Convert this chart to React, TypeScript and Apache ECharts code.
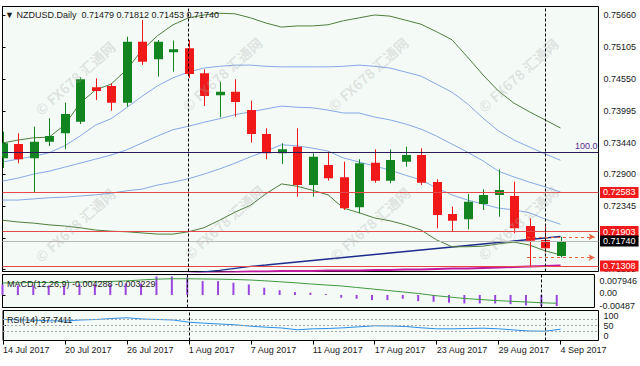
import React, { useEffect, useRef } from 'react';
import * as echarts from 'echarts';

const FONT = '"Liberation Sans", Arial, sans-serif';

const DATES = [
  '14 Jul 2017', '17 Jul 2017', '18 Jul 2017', '19 Jul 2017', '20 Jul 2017', '21 Jul 2017',
  '24 Jul 2017', '25 Jul 2017', '26 Jul 2017', '27 Jul 2017', '28 Jul 2017', '31 Jul 2017',
  '1 Aug 2017', '2 Aug 2017', '3 Aug 2017', '4 Aug 2017', '7 Aug 2017', '8 Aug 2017',
  '9 Aug 2017', '10 Aug 2017', '11 Aug 2017', '14 Aug 2017', '15 Aug 2017', '16 Aug 2017',
  '17 Aug 2017', '18 Aug 2017', '21 Aug 2017', '22 Aug 2017', '23 Aug 2017', '24 Aug 2017',
  '25 Aug 2017', '28 Aug 2017', '29 Aug 2017', '30 Aug 2017', '31 Aug 2017', '1 Sep 2017',
  '4 Sep 2017',
];

const OPEN = [
  0.73174, 0.73422, 0.73174, 0.73462, 0.73608, 0.73809, 0.74406, 0.74428, 0.74139, 0.75197,
  0.74892, 0.75013, 0.75082, 0.74649, 0.74267, 0.74330, 0.74012, 0.73596, 0.73261, 0.73376,
  0.72711, 0.73058, 0.72845, 0.72325, 0.73098, 0.72786, 0.73116, 0.73232, 0.72763, 0.72208,
  0.72116, 0.72382, 0.72538, 0.72521, 0.72000, 0.71757, 0.71479,
];
const HIGH = [
  0.73636, 0.73608, 0.73723, 0.73868, 0.74139, 0.74579, 0.74562, 0.74475, 0.75284, 0.75573,
  0.75226, 0.75218, 0.75226, 0.74718, 0.74503, 0.74545, 0.74174, 0.73695, 0.73435, 0.73695,
  0.73261, 0.73289, 0.73116, 0.73157, 0.73331, 0.73331, 0.73376, 0.73348, 0.72810, 0.72335,
  0.72555, 0.72637, 0.72984, 0.72769, 0.72134, 0.71988, 0.71812,
];
const LOW = [
  0.73006, 0.73088, 0.72573, 0.73388, 0.73331, 0.73769, 0.74186, 0.74000, 0.74069, 0.74793,
  0.74590, 0.74676, 0.74567, 0.74082, 0.73886, 0.73896, 0.73445, 0.73157, 0.73076, 0.72508,
  0.72508, 0.72786, 0.72278, 0.72221, 0.72751, 0.72741, 0.73029, 0.72711, 0.71960, 0.71901,
  0.71943, 0.72278, 0.72162, 0.71874, 0.71308, 0.71540, 0.71453,
];
const CLOSE = [
  0.73435, 0.73157, 0.73462, 0.73561, 0.73943, 0.74545, 0.74342, 0.74139, 0.75197, 0.74850,
  0.75197, 0.75065, 0.74637, 0.74255, 0.74330, 0.74151, 0.73596, 0.73261, 0.73331, 0.72711,
  0.73202, 0.72828, 0.72307, 0.73088, 0.72786, 0.73145, 0.73232, 0.72751, 0.72191, 0.72092,
  0.72422, 0.72538, 0.72625, 0.71960, 0.71745, 0.71613, 0.71740,
];

const BB_UPPER = [
  0.7344, 0.7349, 0.7353, 0.7354, 0.7375, 0.7413, 0.7436, 0.7446, 0.7471, 0.7505,
  0.7530, 0.7549, 0.7561, 0.7566, 0.7569, 0.7568, 0.7561, 0.7552, 0.7545, 0.7547,
  0.7547, 0.7549, 0.7556, 0.7561, 0.7566, 0.7564, 0.7557, 0.7550, 0.7537, 0.7523,
  0.7493, 0.7462, 0.7434, 0.7413, 0.7398, 0.7384, 0.7370,
];
const BB_LOWER = [
  0.7210, 0.7207, 0.7205, 0.7202, 0.7200, 0.7197, 0.7193, 0.7191, 0.7190, 0.7188,
  0.7186, 0.7186, 0.7190, 0.7197, 0.7210, 0.7224, 0.7236, 0.7256, 0.7273, 0.7269,
  0.7262, 0.7254, 0.7231, 0.7223, 0.7214, 0.7209, 0.7202, 0.7193, 0.7176, 0.7164,
  0.7164, 0.7165, 0.7169, 0.7172, 0.7167, 0.7157, 0.7150,
];
const BB_MID = [
  0.7278, 0.7283, 0.7290, 0.7295, 0.7302, 0.7309, 0.7316, 0.7323, 0.7332, 0.7344,
  0.7356, 0.7367, 0.7373, 0.7380, 0.7386, 0.7393, 0.7398, 0.7403, 0.7408, 0.7406,
  0.7405, 0.7401, 0.7396, 0.7396, 0.7389, 0.7384, 0.7377, 0.7368, 0.7356, 0.7342,
  0.7328, 0.7313, 0.7295, 0.7285, 0.7276, 0.7268, 0.7259,
];
const BAND1_UPPER = [
  0.7311, 0.7316, 0.7321, 0.7327, 0.7339, 0.7356, 0.7375, 0.7386, 0.7405, 0.7425,
  0.7443, 0.7457, 0.7467, 0.7474, 0.7477, 0.7479, 0.7479, 0.7477, 0.7476, 0.7476,
  0.7476, 0.7476, 0.7477, 0.7479, 0.7477, 0.7474, 0.7467, 0.7460, 0.7446, 0.7432,
  0.7412, 0.7387, 0.7365, 0.7349, 0.7337, 0.7325, 0.7314,
];
const BAND1_LOWER = [
  0.7245, 0.7245, 0.7247, 0.7249, 0.7250, 0.7252, 0.7254, 0.7257, 0.7261, 0.7264,
  0.7271, 0.7276, 0.7282, 0.7290, 0.7299, 0.7309, 0.7320, 0.7330, 0.7341, 0.7339,
  0.7335, 0.7330, 0.7318, 0.7311, 0.7304, 0.7297, 0.7288, 0.7280, 0.7266, 0.7254,
  0.7245, 0.7238, 0.7231, 0.7228, 0.7223, 0.7212, 0.7203,
];
const MA_NAVY = [
  0.70977, 0.70995, 0.71012, 0.71021, 0.71038, 0.71056, 0.71073, 0.71090, 0.71108, 0.71125,
  0.71142, 0.71160, 0.71177, 0.71203, 0.71229, 0.71264, 0.71299, 0.71324, 0.71350, 0.71376,
  0.71402, 0.71428, 0.71454, 0.71480, 0.71506, 0.71532, 0.71558, 0.71584, 0.71610, 0.71636,
  0.71662, 0.71688, 0.71714, 0.71740, 0.71766, 0.71792, 0.71818,
];
const MA_MAGENTA = [
  0.71120, 0.71124, 0.71128, 0.71131, 0.71135, 0.71139, 0.71142, 0.71146, 0.71150, 0.71155,
  0.71160, 0.71168, 0.71176, 0.71185, 0.71194, 0.71202, 0.71211, 0.71211, 0.71220, 0.71220,
  0.71220, 0.71228, 0.71228, 0.71228, 0.71237, 0.71237, 0.71246, 0.71246, 0.71255, 0.71263,
  0.71263, 0.71272, 0.71281, 0.71289, 0.71298, 0.71307, 0.71315,
];

const MACD_HIST = [
  0.00408, 0.00369, 0.00369, 0.00369, 0.00369, 0.00408, 0.00408, 0.00408, 0.00447, 0.00447,
  0.00718, 0.00718, 0.00680, 0.00536, 0.00536, 0.00474, 0.00408, 0.00280, 0.00186, 0.00109,
  0.00085, 0.00039, -0.00109, -0.00148, -0.00202, -0.00202, -0.00148, -0.00241, -0.00264, -0.00303,
  -0.00330, -0.00330, -0.00330, -0.00357, -0.00408, -0.00435, -0.004288,
];
const MACD_SIGNAL = [
  0.00466, 0.00474, 0.00485, 0.00485, 0.00485, 0.00497, 0.00513, 0.00524, 0.00544, 0.00583,
  0.00614, 0.00629, 0.00629, 0.00621, 0.00614, 0.00602, 0.00583, 0.00551, 0.00513, 0.00474,
  0.00427, 0.00388, 0.00350, 0.00291, 0.00233, 0.00175, 0.00117, 0.00058, -0.00019, -0.00078,
  -0.00136, -0.00175, -0.00214, -0.00245, -0.00272, -0.00303, -0.003229,
];
const RSI = [
  70.0, 69.0, 67.7, 65.7, 65.0, 68.3, 70.0, 73.3, 75.7, 71.7,
  70.0, 68.3, 61.0, 57.7, 55.0, 52.3, 47.7, 44.3, 41.7, 35.7,
  39.0, 40.0, 42.3, 45.7, 49.0, 48.3, 46.7, 42.3, 39.0, 39.0,
  40.0, 41.0, 39.0, 35.0, 31.7, 31.0, 37.7411,
];

const PRICE_TICKS = [0.7566, 0.75105, 0.7455, 0.73995, 0.7344, 0.729, 0.72345, 0.7179, 0.71255];
const PRICE_LABELS = [0.7566, 0.75105, 0.7455, 0.73995, 0.7344, 0.729, 0.72345, 0.71255];
const DATE_TICKS = [0, 4, 8, 12, 16, 20, 24, 28, 32, 36];
const MACD_TICKS = [0.007946, 0, -0.00487];
const MACD_EDGE_LABELS = [0.007946, -0.00487];
const MACD_EDGE_TEXT = ['0.007946', '-0.00487'];
const MACD_ZERO = 0;
const MACD_ZERO_TEXT = '0.00';
const RSI_TICKS = [100, 70, 50, 30, 0];
const RSI_LEVELS = [70, 50, 30];
const FIB_100 = 0.73284;
const RED_LEVELS = [0.72583, 0.71903, 0.71308];
const LAST_PRICE = 0.7174;
const MARKER_LINES = [0.71812, 0.71453];
const MARKER_RANGE = [33.84, 38.2];
const VERTICAL_MARKS = [12, 35];

const X_MIN = 0;
const X_MAX = 38.45;

const GREEN = '#128520';
const RED = '#F01818';

const WATERMARKS = [
  [75, 78], [222, 74], [368, 74], [518, 75],
  [75, 225], [224, 222], [370, 224], [518, 223],
];

export default function App() {
  const ref = useRef<HTMLDivElement>(null);

  useEffect(() => {
    document.body.style.margin = '0';
    if (!ref.current) return;
    const chart = echarts.init(ref.current, undefined, { renderer: 'svg' });

    const n = DATES.length;
    const candleData = DATES.map((_, i) => [i, OPEN[i], CLOSE[i], LOW[i], HIGH[i]]);
    const pairs = (arr: number[]) => arr.map((v, i) => [i, v]);

    const gridCommon = {
      left: 2.5,
      right: 41.5,
      show: true,
      backgroundColor: '#F4FBF7',
      borderColor: '#000',
      borderWidth: 1,
    };

    const hiddenX = (gridIndex: number) => ({
      gridIndex,
      type: 'value',
      min: X_MIN,
      max: X_MAX,
      show: false,
      splitLine: { show: false },
    });

    const textBase = { fontFamily: FONT, fontSize: 9, color: '#1a1a1a' };
    const last = n - 1;
    const header = `▼ NZDUSD.Daily  ${OPEN[last].toFixed(5)} ${HIGH[last].toFixed(5)} ${LOW[last].toFixed(5)} ${CLOSE[last].toFixed(5)}`;

    const lineSeries = (data: number[], color: string, width = 1) => ({
      type: 'line',
      xAxisIndex: 0,
      yAxisIndex: 0,
      data: pairs(data),
      symbol: 'none',
      clip: true,
      lineStyle: { color, width },
      silent: true,
      z: 3,
    });

    const vMarks = VERTICAL_MARKS.map((v) => ({
      xAxis: v,
      lineStyle: { color: '#000', type: [3, 2], width: 1 },
      label: { show: false },
    }));

    const boxLabel = (bg: string, value: number) => ({
      show: true,
      position: 'end',
      distance: 1.5,
      formatter: value.toFixed(5),
      backgroundColor: bg,
      color: '#fff',
      padding: [1, 3, 0, 3],
      lineHeight: 10,
      fontFamily: FONT,
      fontSize: 9,
    });

    const markerPairs = MARKER_LINES.map((v) => [
      {
        coord: [MARKER_RANGE[0], v],
        symbol: 'none',
        lineStyle: { color: '#E8643C', type: [3, 3], width: 1 },
        label: { show: false },
      },
      { coord: [MARKER_RANGE[1], v], symbol: 'arrow', symbolSize: [5, 6] },
    ]);

    const watermarkGraphics = WATERMARKS.map(([x, y]) => ({
      type: 'text',
      x,
      y,
      rotation: (42 * Math.PI) / 180,
      z: 100,
      silent: true,
      style: {
        text: '© FX678 汇通网',
        fill: 'rgba(170,170,170,0.30)',
        font: 'bold 14px "Noto Sans CJK SC", "Noto Sans", sans-serif',
        textAlign: 'center',
        textVerticalAlign: 'middle',
      },
    }));

    const option: any = {
      animation: false,
      backgroundColor: '#ffffff',
      title: [
        { text: header, left: 5, top: 10, padding: 0, textStyle: { ...textBase, fontWeight: 'normal' } },
        { text: 'MACD(12,26,9) -0.004288 -0.003229', left: 7, top: 279, padding: 0, textStyle: { ...textBase, fontWeight: 'normal' } },
        { text: `RSI(14) ${RSI[last].toFixed(4)}`, left: 7, top: 315, padding: 0, textStyle: { ...textBase, fontWeight: 'normal' } },
      ],
      grid: [
        { ...gridCommon, top: 6.5, height: 265 },
        { ...gridCommon, top: 274.5, height: 33 },
        { ...gridCommon, top: 310.5, height: 30 },
      ],
      xAxis: [
        hiddenX(0),
        hiddenX(1),
        {
          gridIndex: 2,
          type: 'value',
          min: X_MIN,
          max: X_MAX,
          splitLine: { show: false },
          axisLine: { show: false },
          axisTick: { show: true, customValues: DATE_TICKS, length: 4, lineStyle: { color: '#000' } },
          axisLabel: {
            customValues: DATE_TICKS,
            formatter: (v: number) => DATES[Math.round(v)] || '',
            align: 'left',
            margin: 5,
            hideOverlap: false,
            showMinLabel: true,
            showMaxLabel: true,
            ...textBase,
          },
        },
      ],
      yAxis: [
        {
          gridIndex: 0,
          type: 'value',
          position: 'right',
          min: 0.71211,
          max: 0.75807,
          splitLine: { show: false },
          axisLine: { show: true, lineStyle: { color: '#000' } },
          axisTick: { show: true, customValues: PRICE_TICKS, length: 3, lineStyle: { color: '#000' } },
          axisLabel: {
            customValues: PRICE_LABELS,
            formatter: (v: number) => v.toFixed(5),
            margin: 5,
            hideOverlap: false,
            showMinLabel: true,
            showMaxLabel: true,
            ...textBase,
          },
        },
        {
          gridIndex: 1,
          type: 'value',
          position: 'right',
          min: -0.00487,
          max: 0.007946,
          splitLine: { show: false },
          axisLine: { show: true, lineStyle: { color: '#000' } },
          axisTick: { show: true, customValues: MACD_TICKS, length: 3, lineStyle: { color: '#000' } },
          axisLabel: {
            customValues: MACD_EDGE_LABELS,
            margin: 5,
            hideOverlap: false,
            showMinLabel: true,
            showMaxLabel: true,
            ...textBase,
            formatter: (v: number) =>
              v > 0 ? `{t|${MACD_EDGE_TEXT[0]}}` : `{b|${MACD_EDGE_TEXT[1]}}`,
            rich: {
              t: { ...textBase, padding: [12, 0, 0, 0] },
              b: { ...textBase, padding: [0, 0, 4, 0] },
            },
          },
        },
        {
          gridIndex: 2,
          type: 'value',
          position: 'right',
          min: 0,
          max: 100,
          splitLine: { show: false },
          axisLine: { show: true, lineStyle: { color: '#000' } },
          axisTick: { show: true, customValues: RSI_TICKS, length: 3, lineStyle: { color: '#000' } },
          axisLabel: {
            customValues: RSI_TICKS,
            margin: 5,
            hideOverlap: false,
            showMinLabel: true,
            showMaxLabel: true,
            ...textBase,
            formatter: (v: number) => (v === 100 ? `{t|${v}}` : v === 0 ? `{b|${v}}` : `{m|${v}}`),
            rich: {
              t: { ...textBase, padding: [10, 0, 0, 0] },
              m: { ...textBase },
              b: { ...textBase, padding: [0, 0, 10, 0] },
            },
          },
        },
      ],
      series: [
        lineSeries(MA_MAGENTA, '#C0189E', 2),
        lineSeries(MA_NAVY, '#1C2C8C', 1.3),
        lineSeries(BAND1_LOWER, '#86A9E6', 1),
        lineSeries(BAND1_UPPER, '#86A9E6', 1),
        lineSeries(BB_MID, '#86A9E6', 1),
        lineSeries(BB_UPPER, '#4F7F3C', 1),
        lineSeries(BB_LOWER, '#4F7F3C', 1),
        {
          type: 'line',
          xAxisIndex: 0,
          yAxisIndex: 0,
          data: [],
          silent: true,
          z: 2,
          markLine: {
            silent: true,
            precision: 6,
            symbol: ['none', 'none'],
            animation: false,
            data: [
              {
                yAxis: FIB_100,
                lineStyle: { color: '#2B1A5C', type: 'solid', width: 1 },
                label: {
                  show: true,
                  position: 'insideEndTop',
                  formatter: '100.0',
                  color: '#5A2A90',
                  fontFamily: FONT,
                  fontSize: 9,
                  distance: 1,
                },
              },
              ...RED_LEVELS.map((v) => ({
                yAxis: v,
                lineStyle: { color: '#E8484A', type: 'solid', width: 1 },
                label: boxLabel('#F21A1A', v),
              })),
              {
                yAxis: LAST_PRICE,
                lineStyle: { color: '#B8B8B8', type: 'solid', width: 1 },
                label: boxLabel('#000000', LAST_PRICE),
              },
              ...markerPairs,
            ],
          },
        },
        {
          type: 'custom',
          xAxisIndex: 0,
          yAxisIndex: 0,
          data: candleData,
          encode: { x: 0, y: [1, 2, 3, 4] },
          clip: true,
          z: 4,
          renderItem: (params: any, api: any) => {
            const i = api.value(0);
            const o = api.value(1);
            const c = api.value(2);
            const l = api.value(3);
            const h = api.value(4);
            const po = api.coord([i, o]);
            const pc = api.coord([i, c]);
            const pl = api.coord([i, l]);
            const ph = api.coord([i, h]);
            const color = c >= o ? GREEN : RED;
            const x = Math.round(po[0]) + 0.5;
            const top = Math.min(po[1], pc[1]);
            const hgt = Math.max(2, Math.abs(po[1] - pc[1]));
            return {
              type: 'group',
              children: [
                { type: 'line', shape: { x1: x, y1: ph[1], x2: x, y2: pl[1] }, style: { stroke: color, lineWidth: 1 } },
                { type: 'rect', shape: { x: x - 4.5, y: top, width: 9, height: hgt }, style: { fill: color } },
              ],
            };
          },
        },
        {
          type: 'line',
          xAxisIndex: 0,
          yAxisIndex: 0,
          data: [],
          silent: true,
          z: 5,
          markLine: { silent: true, precision: 6, symbol: ['none', 'none'], animation: false, data: vMarks },
        },
        {
          type: 'bar',
          xAxisIndex: 1,
          yAxisIndex: 1,
          data: pairs(MACD_HIST),
          barWidth: 2,
          itemStyle: { color: '#9B45E0' },
          silent: true,
          markLine: { silent: true, precision: 6, symbol: ['none', 'none'], animation: false, data: vMarks },
        },
        {
          type: 'line',
          xAxisIndex: 1,
          yAxisIndex: 1,
          data: pairs(MACD_SIGNAL),
          symbol: 'none',
          lineStyle: { color: '#3E9A3E', width: 1 },
          silent: true,
        },
        {
          type: 'line',
          xAxisIndex: 2,
          yAxisIndex: 2,
          data: pairs(RSI),
          symbol: 'none',
          lineStyle: { color: '#2A8FE8', width: 1 },
          silent: true,
          markLine: {
            silent: true,
            precision: 6,
            symbol: ['none', 'none'],
            animation: false,
            data: [
              ...RSI_LEVELS.map((v) => ({
                yAxis: v,
                lineStyle: { color: '#A8A8A8', type: [2, 2], width: 1 },
                label: { show: false },
              })),
              ...vMarks,
            ],
          },
        },
      ],
      graphic: watermarkGraphics,
    };

    chart.setOption(option);

    // Zero label of the MACD scale, placed through the MACD axis' own scale.
    const zeroY = chart.convertToPixel({ yAxisIndex: 1 } as any, MACD_ZERO) as unknown as number;
    const axisX = chart.convertToPixel({ xAxisIndex: 1 } as any, X_MAX) as unknown as number;
    if (typeof zeroY === 'number' && typeof axisX === 'number' && isFinite(zeroY) && isFinite(axisX)) {
      chart.setOption({
        graphic: [
          ...watermarkGraphics,
          {
            type: 'text',
            x: axisX + 5,
            y: zeroY - 1.5,
            z: 10,
            silent: true,
            style: {
              text: MACD_ZERO_TEXT,
              fill: '#1a1a1a',
              font: `9px ${FONT}`,
              textAlign: 'left',
              textVerticalAlign: 'middle',
            },
          },
        ],
      });
    }

    return () => chart.dispose();
  }, []);

  return (
    <div
      ref={ref}
      style={{ position: 'absolute', left: 0, top: 0, width: 640, height: 366 }}
    />
  );
}
